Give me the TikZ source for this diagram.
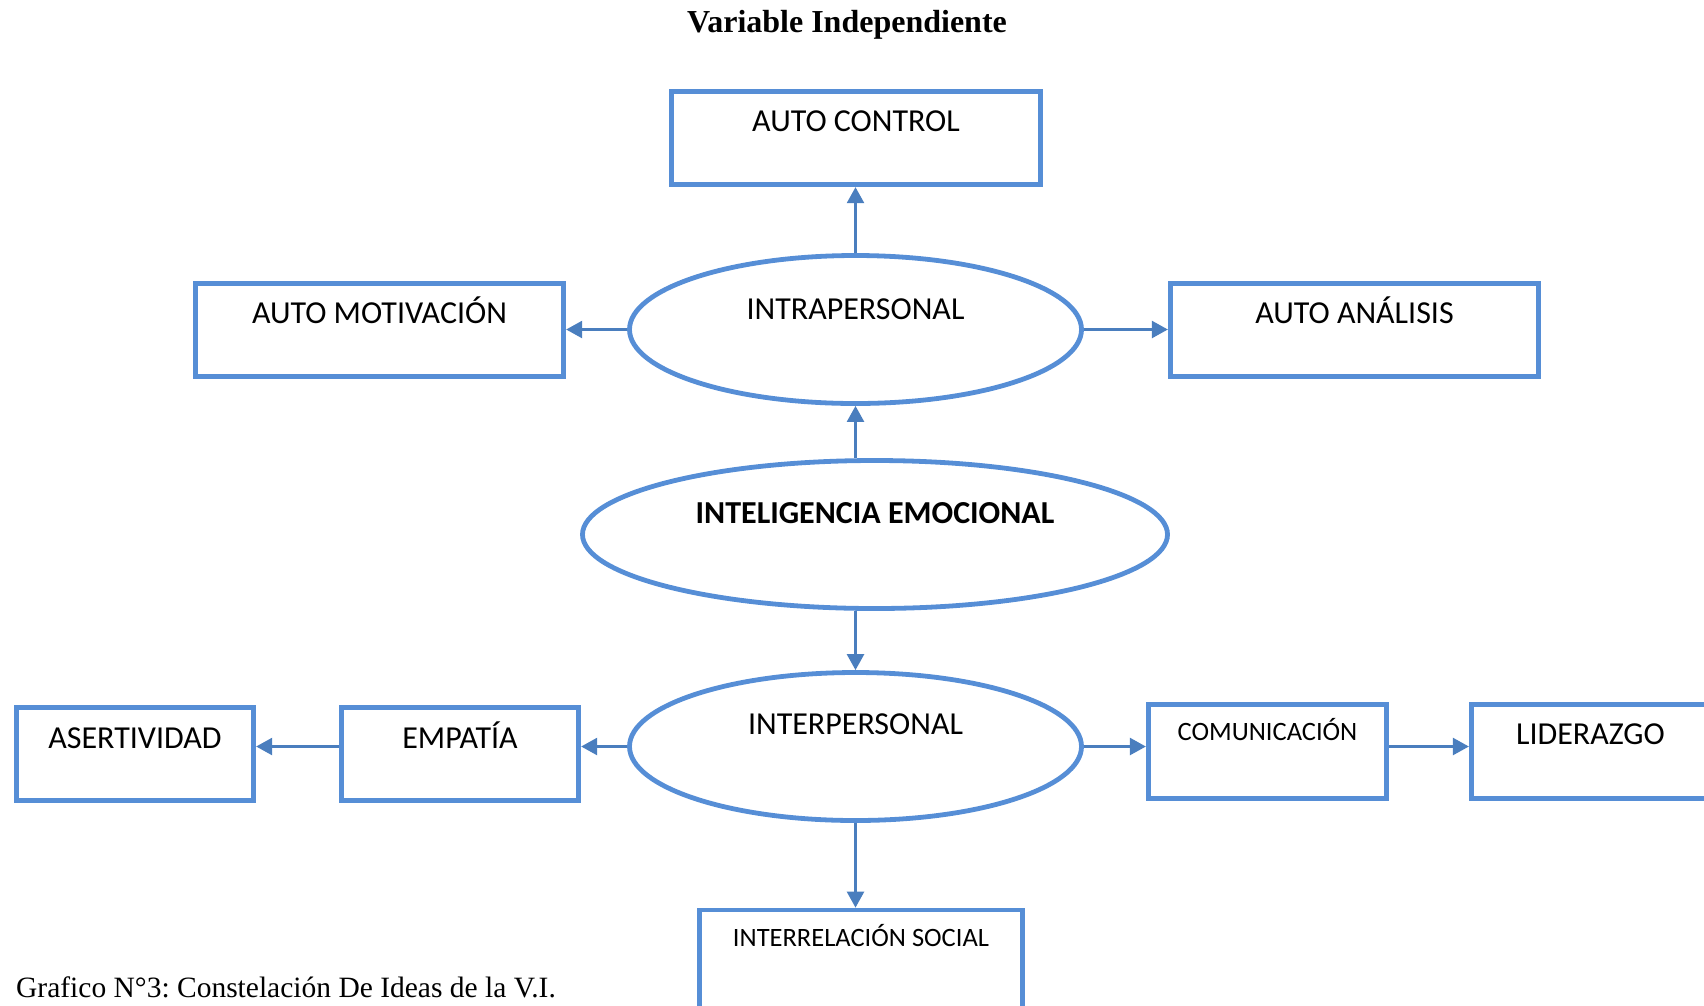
\documentclass[tikz,border=0pt]{standalone}
\usepackage{fontspec}
\setmainfont{Carlito}
\newfontfamily\timesfont{Liberation Serif}
\usepackage{xcolor}
\usetikzlibrary{
    arrows.meta,
    shapes.geometric,
    positioning
}
\definecolor{boxblue}{RGB}{86,142,214}
\definecolor{arrowblue}{RGB}{74,126,190}
\frenchspacing

\begin{document}
\begin{tikzpicture}[x=1pt, y=-1pt,
        box/.style={draw=boxblue, line width=4.8pt, rectangle, minimum width=#1, minimum height=93.5pt, inner sep=0pt},
        oval/.style={draw=boxblue, line width=4.8pt, ellipse, minimum width=#1, minimum height=148pt, inner sep=0pt},
        txt/.style={font=\fontsize{32}{38}\selectfont, inner sep=0pt, anchor=base},
        small/.style={font=\fontsize{26.5}{32}\selectfont, inner sep=0pt, anchor=base},
        arr/.style={draw=arrowblue, line width=2.5pt, -{Triangle[length=16pt, width=17pt]}}]
    \useasboundingbox (0,0) rectangle (1704,1005);

    \node[font=\timesfont\bfseries\fontsize{32}{38}\selectfont, inner sep=0pt, anchor=base] (title) at (847,32) {Variable Independiente};

    % top half
    \node[box=369.5, label={[txt, yshift=-43pt]north:AUTO CONTROL}] (actrl) at (856,138) {};
    \node[box=368.5, label={[txt, yshift=-43pt]north:AUTO MOTIVACIÓN}] (amot) at (379.5,330) {};
    \node[box=368.5, label={[txt, yshift=-43pt]north:AUTO ANÁLISIS}] (aana) at (1354.5,330) {};
    \node[oval=452, label={[txt, yshift=-66pt]north:INTRAPERSONAL}] (intra) at (855.5,329.5) {};

    \node[oval=585, label={[txt, font=\fontsize{32}{38}\selectfont\bfseries, yshift=-65pt]north:INTELIGENCIA EMOCIONAL}] (intel) at (875,534.5) {};

    % bottom half
    \node[oval=452, label={[txt, yshift=-64pt]north:INTERPERSONAL}] (inter) at (855.5,746.5) {};
    \node[box=237.5, label={[txt, yshift=-44pt]north:EMPATÍA}] (empat) at (460,754) {};
    \node[box=237.5, label={[txt, yshift=-44pt]north:ASERTIVIDAD}] (asert) at (135,754) {};
    \node[box=238.5, label={[small, yshift=-38.5pt]north:COMUNICACIÓN}] (comun) at (1267.5,751.5) {};
    \node[box=238.5, label={[txt, yshift=-42.5pt]north:LIDERAZGO}] (lider) at (1590.5,751.5) {};
    \node[box=323.5, minimum height=100pt, label={[small, yshift=-39pt]north:INTERRELACIÓN SOCIAL}] (inrel) at (861,960) {};

    \draw[arr] (intra.north) -- (intra.north |- actrl.south);
    \draw[arr] (intra.west) -- (intra.west -| amot.east);
    \draw[arr] (intra.east) -- (intra.east -| aana.west);
    \draw[arr] (intel.north -| intra.south) -- (intra.south);
    \draw[arr] (intel.south -| inter.north) -- (inter.north);
    \draw[arr] (inter.west) -- (inter.west -| empat.east);
    \draw[arr] (empat.west |- inter.west) -- (asert.east |- inter.west);
    \draw[arr] (inter.east) -- (inter.east -| comun.west);
    \draw[arr] (comun.east |- inter.east) -- (lider.west |- inter.east);
    \draw[arr] (inter.south) -- (inter.south |- inrel.north);

    \node[font=\timesfont\fontsize{29.5}{35}\selectfont, inner sep=0pt, anchor=base west] (caption) at (16,997) {Grafico N°3: Constelación De Ideas de la V.I.};
\end{tikzpicture}
\end{document}
